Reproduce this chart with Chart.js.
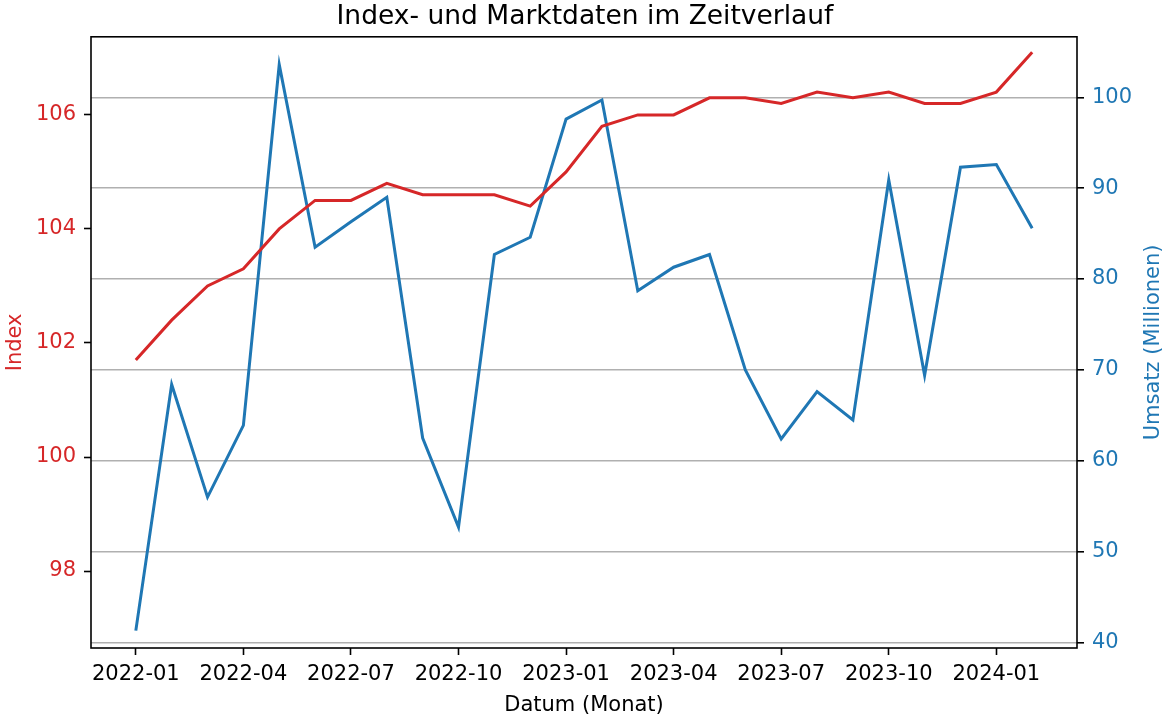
<!DOCTYPE html>
<html>
<head>
<meta charset="utf-8">
<script src="https://cdn.jsdelivr.net/npm/chart.js@4.4.1/dist/chart.umd.min.js"></script>
<style>
  body { margin: 0; background: #fff; }
  #box { width: 1170px; height: 721px; }
</style>
</head>
<body>
<div id="box"><canvas id="grafico"></canvas></div>
<script>
// Daten (monatlich)
const monate = [
  "2022-01", "2022-02", "2022-03", "2022-04", "2022-05", "2022-06", "2022-07", "2022-08", "2022-09",
  "2022-10", "2022-11", "2022-12", "2023-01", "2023-02", "2023-03", "2023-04", "2023-05", "2023-06",
  "2023-07", "2023-08", "2023-09", "2023-10", "2023-11", "2023-12", "2024-01", "2024-02"
];
const indexWerte = [
  101.7, 102.4, 103.0, 103.3, 104.0, 104.5, 104.5, 104.8, 104.6, 104.6, 104.6, 104.4, 105.0,
  105.8, 106.0, 106.0, 106.3, 106.3, 106.2, 106.4, 106.3, 106.4, 106.2, 106.2, 106.4, 107.1
];
const umsatzWerte = [
  41.3, 68.4, 56.0, 63.9, 103.6, 83.5, 86.3, 89.0, 62.5, 52.7, 82.7, 84.6, 97.6,
  99.7, 78.7, 81.3, 82.7, 70.0, 62.4, 67.6, 64.5, 90.9, 69.4, 92.3, 92.6, 85.6
];
const xTicks = ["2022-01", "2022-04", "2022-07", "2022-10", "2023-01", "2023-04", "2023-07", "2023-10", "2024-01"];
const indexTicks = [98, 100, 102, 104, 106];
const umsatzTicks = [40, 50, 60, 70, 80, 90, 100];

const ROT = "#d62728";
const BLAU = "#1f77b4";
const SCHRIFT = "'DejaVu Sans', sans-serif";

// Rahmen um die Zeichenfläche + rechte Achsenbeschriftung (von unten nach oben)
const rahmen = {
  id: "rahmen",
  afterDraw(chart) {
    const { ctx, chartArea } = chart;
    ctx.save();
    ctx.strokeStyle = "#000";
    ctx.lineWidth = 1.6;
    ctx.strokeRect(chartArea.left, chartArea.top, chartArea.right - chartArea.left, chartArea.bottom - chartArea.top);

    const y2 = chart.scales.y2;
    ctx.translate(y2.right - 16, (chartArea.top + chartArea.bottom) / 2);
    ctx.rotate(-Math.PI / 2);
    ctx.fillStyle = BLAU;
    ctx.font = "21px " + SCHRIFT;
    ctx.textAlign = "center";
    ctx.textBaseline = "middle";
    ctx.fillText("Umsatz (Millionen)", 0, 0);
    ctx.restore();
  },
};

const CHART = document.querySelector("#grafico");

let grafico = new Chart(CHART, {
  type: "line",
  data: {
    datasets: [
      {
        label: "Index",
        data: indexWerte.map((v, i) => ({ x: i, y: v })),
        borderColor: ROT,
        borderWidth: 3,
        pointRadius: 0,
        yAxisID: "y",
      },
      {
        label: "Umsatz",
        data: umsatzWerte.map((v, i) => ({ x: i, y: v })),
        borderColor: BLAU,
        borderWidth: 3,
        pointRadius: 0,
        yAxisID: "y2",
      },
    ],
  },
  options: {
    responsive: true,
    maintainAspectRatio: false,
    animation: false,
    layout: { padding: 0 },
    font: { family: SCHRIFT },
    plugins: {
      legend: { display: false },
      tooltip: { enabled: false },
      title: {
        display: true,
        text: "Index- und Marktdaten im Zeitverlauf",
        color: "#000",
        font: { family: SCHRIFT, size: 26.5, weight: "normal" },
        padding: { top: 1, bottom: 4 },
      },
    },
    scales: {
      x: {
        type: "linear",
        min: -1.25,
        max: 26.25,
        afterBuildTicks: (scale) => {
          scale.ticks = xTicks.map((t) => ({ value: monate.indexOf(t) }));
        },
        afterFit: (scale) => { scale.height = 73; },
        ticks: {
          autoSkip: false,
          maxRotation: 0,
          padding: 7,
          color: "#000",
          font: { family: SCHRIFT, size: 21 },
          callback: (v) => monate[v],
        },
        grid: { drawOnChartArea: false, tickLength: 7, tickColor: "#000", tickWidth: 1.6 },
        border: { display: false },
        title: {
          display: true,
          text: "Datum (Monat)",
          color: "#000",
          font: { family: SCHRIFT, size: 21 },
          padding: { top: 0, bottom: 3 },
        },
      },
      y: {
        position: "left",
        min: 96.65,
        max: 107.37,
        afterBuildTicks: (scale) => {
          scale.ticks = indexTicks.map((v) => ({ value: v }));
        },
        afterFit: (scale) => { scale.width = 91; },
        ticks: { color: ROT, padding: 8, font: { family: SCHRIFT, size: 21 } },
        grid: { drawOnChartArea: false, tickLength: 7, tickColor: "#000", tickWidth: 1.6 },
        border: { display: false },
        title: {
          display: true,
          text: "Index",
          color: ROT,
          font: { family: SCHRIFT, size: 21 },
          padding: { top: 3, bottom: 0 },
        },
      },
      y2: {
        position: "right",
        min: 39.39,
        max: 106.66,
        afterBuildTicks: (scale) => {
          scale.ticks = umsatzTicks.map((v) => ({ value: v }));
        },
        afterFit: (scale) => { scale.width = 93; },
        ticks: { color: BLAU, padding: 8, font: { family: SCHRIFT, size: 21 } },
        grid: {
          drawOnChartArea: true,
          color: "#b0b0b0",
          lineWidth: 1.6,
          tickLength: 7,
          tickColor: "#000",
          tickWidth: 1.6,
        },
        border: { display: false },
      },
    },
  },
  plugins: [rahmen],
});
</script>
</body>
</html>
